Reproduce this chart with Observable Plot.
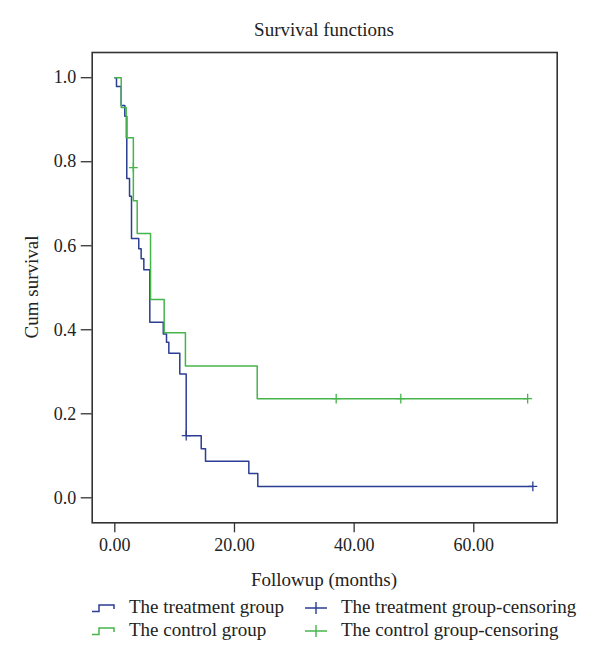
<!DOCTYPE html>
<html>
<head>
<meta charset="utf-8">
<script src="https://cdn.jsdelivr.net/npm/d3@7"></script>
<script src="https://cdn.jsdelivr.net/npm/@observablehq/plot@0.6"></script>
<style>
  html, body { margin: 0; padding: 0; background: #fff; }
  #wrap { position: relative; width: 600px; height: 664px; font-family: "Liberation Serif", "DejaVu Serif", serif; color: #222; }
  .abs { position: absolute; white-space: nowrap; }
  #chart { position: absolute; left: 0; top: 0; }
  .leg { position: absolute; font-size: 19px; line-height: 22px; white-space: nowrap; }
</style>
</head>
<body>
<div id="wrap">
  <div id="chart"></div>
  <div class="abs" id="title" style="left:224px;width:200px;top:19px;text-align:center;font-size:19px;line-height:22px;">Survival functions</div>
  <div class="abs" id="xlab" style="left:224px;width:200px;top:569px;text-align:center;font-size:19px;line-height:22px;">Followup (months)</div>
  <div class="abs" id="ylab" style="left:-68px;width:200px;top:276px;text-align:center;font-size:19px;line-height:22px;transform:rotate(-90deg);">Cum survival</div>
  <div id="legend"></div>
</div>
<script>
// ---- Data ----
const treatTime = [0, 0.28, 1.07, 1.67, 2.0, 2.46, 2.79, 4.0, 4.4, 4.85, 5.85, 8.1, 8.64, 9.03, 10.86, 11.93, 14.44, 15.16, 22.4, 23.9, 69.87];
const treatSurv = [1.0, 0.979, 0.934, 0.908, 0.760, 0.718, 0.617, 0.593, 0.569, 0.543, 0.418, 0.390, 0.370, 0.344, 0.295, 0.148, 0.117, 0.087, 0.058, 0.027, 0.027];
const controlTime = [0, 1.07, 1.9, 3.1, 3.74, 5.97, 8.25, 11.8, 23.8, 69.0];
const controlSurv = [1.0, 0.929, 0.857, 0.707, 0.629, 0.472, 0.393, 0.314, 0.236, 0.236];
const treatCensorTime = [11.93, 69.87];
const treatCensorSurv = [0.148, 0.027];
const controlCensorTime = [3.1, 37.0, 47.8, 69.0];
const controlCensorSurv = [0.786, 0.236, 0.236, 0.236];
const xTicks = [0, 20, 40, 60];
const yTicks = [0, 0.2, 0.4, 0.6, 0.8, 1.0];
const seriesNames = ["The treatment group", "The control group"];
const censorNames = ["The treatment group-censoring", "The control group-censoring"];

const BLUE = "#2b3d94";
const GREEN = "#45b54b";

const treat = treatTime.map((t, i) => ({t, s: treatSurv[i]}));
const control = controlTime.map((t, i) => ({t, s: controlSurv[i]}));
const treatC = treatCensorTime.map((t, i) => ({t, s: treatCensorSurv[i]}));
const controlC = controlCensorTime.map((t, i) => ({t, s: controlCensorSurv[i]}));

const cross = {
  draw(context, size) {
    const r = Math.sqrt(size) / 2;
    context.moveTo(-r, 0); context.lineTo(r, 0);
    context.moveTo(0, -r * 1.1); context.lineTo(0, r * 1.1);
  }
};

const chart = Plot.plot({
  width: 600,
  height: 600,
  marginLeft: 91.7,
  marginRight: 43.3,
  marginTop: 52,
  marginBottom: 77.7,
  style: {fontFamily: "'Liberation Serif', serif", fontSize: "18px", color: "#222", background: "white"},
  x: {domain: [-3.78, 73.94]},
  y: {domain: [-0.0595, 1.060]},
  marks: [
    Plot.axisX({ticks: xTicks, tickFormat: d3.format(".2f"), tickSize: 10, tickPadding: 5, label: null, fontSize: 18, stroke: "#333", strokeWidth: 1.3}),
    Plot.axisY({ticks: yTicks, tickFormat: d3.format(".1f"), tickSize: 11, tickPadding: 5, label: null, fontSize: 18, stroke: "#333", strokeWidth: 1.3}),
    Plot.line(treat, {x: "t", y: "s", curve: "step-after", stroke: BLUE, strokeWidth: 1.5}),
    Plot.line(control, {x: "t", y: "s", curve: "step-after", stroke: GREEN, strokeWidth: 1.5}),
    Plot.dot(treatC, {x: "t", y: "s", symbol: cross, r: 5, stroke: BLUE, fill: "none", strokeWidth: 1.3}),
    Plot.dot(controlC, {x: "t", y: "s", symbol: cross, r: 5, stroke: GREEN, fill: "none", strokeWidth: 1.3}),
    Plot.frame({stroke: "#333", strokeWidth: 1.6})
  ]
});
document.getElementById("chart").appendChild(chart);

// ---- Legend ----
const legend = document.getElementById("legend");
const colors = [BLUE, GREEN];
const rowTop = [596, 619];
seriesNames.forEach((name, i) => {
  const sw = document.createElement("div");
  sw.className = "leg";
  sw.style.left = "92px";
  sw.style.top = (rowTop[i] + 8) + "px";
  sw.innerHTML = `<svg width="24" height="9" style="display:block"><path d="M0,7.5 H7 V1 H22 V5" fill="none" stroke="${colors[i]}" stroke-width="1.5"/></svg>`;
  legend.appendChild(sw);
  const tx = document.createElement("div");
  tx.className = "leg";
  tx.style.left = "129px";
  tx.style.top = rowTop[i] + "px";
  tx.textContent = name;
  legend.appendChild(tx);
});
censorNames.forEach((name, i) => {
  const sw = document.createElement("div");
  sw.className = "leg";
  sw.style.left = "305px";
  sw.style.top = (rowTop[i] + 5) + "px";
  sw.innerHTML = `<svg width="23" height="14" style="display:block"><path d="M0,7 H22 M11,1 V13" fill="none" stroke="${colors[i]}" stroke-width="1.4"/></svg>`;
  legend.appendChild(sw);
  const tx = document.createElement("div");
  tx.className = "leg";
  tx.style.left = "341px";
  tx.style.top = rowTop[i] + "px";
  tx.textContent = name;
  legend.appendChild(tx);
});
</script>
</body>
</html>
